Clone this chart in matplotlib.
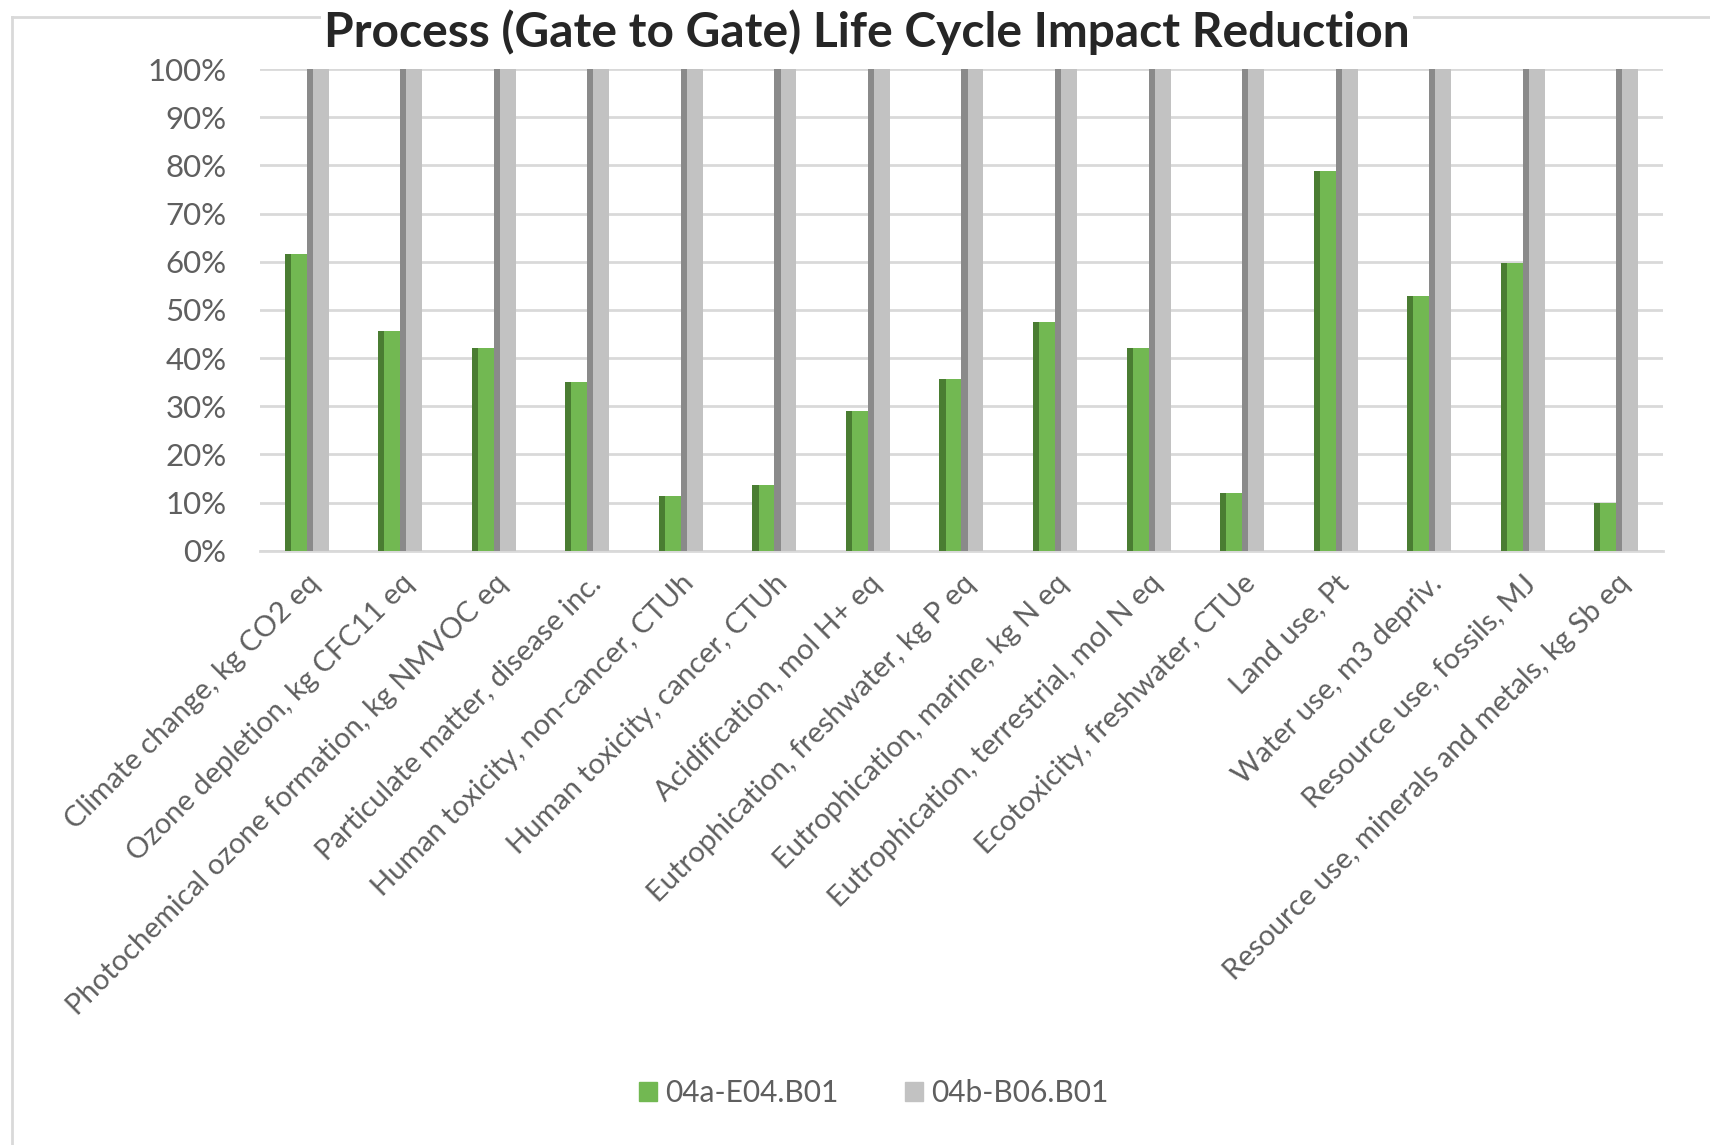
import matplotlib
matplotlib.use("Agg")
import matplotlib.pyplot as plt
import numpy as np

plt.rcParams['font.family'] = ['Lato', 'DejaVu Sans']

categories = [
    "Climate change, kg CO2 eq",
    "Ozone depletion, kg CFC11 eq",
    "Photochemical ozone formation, kg NMVOC eq",
    "Particulate matter, disease inc.",
    "Human toxicity, non-cancer, CTUh",
    "Human toxicity, cancer, CTUh",
    "Acidification, mol H+ eq",
    "Eutrophication, freshwater, kg P eq",
    "Eutrophication, marine, kg N eq",
    "Eutrophication, terrestrial, mol N eq",
    "Ecotoxicity, freshwater, CTUe",
    "Land use, Pt",
    "Water use, m3 depriv.",
    "Resource use, fossils, MJ",
    "Resource use, minerals and metals, kg Sb eq",
]
e04_b01 = [0.616, 0.456, 0.421, 0.351, 0.114, 0.137, 0.291, 0.357,
           0.474, 0.420, 0.119, 0.788, 0.529, 0.598, 0.099]
b06_b01 = [1.0] * 15
series_names = ["04a-E04.B01", "04b-B06.B01"]

green = "#72b852"
green_dark = "#4a7d32"
grey = "#c2c2c2"
grey_dark = "#8a8a8a"
text_col = "#5f5f5f"

fig = plt.figure(figsize=(17.1, 11.45), dpi=100)
ax = fig.add_axes([0.152, 0.519, 0.8205, 0.4207])

x = np.arange(len(categories))
w = 0.235

# bars with a darker strip on the left side to mimic the Excel shading
ax.bar(x - w, e04_b01, width=w, align='edge', color=green, label=series_names[0], zorder=3)
ax.bar(x - w, e04_b01, width=w * 0.28, align='edge', color=green_dark, zorder=3)
ax.bar(x, b06_b01, width=w, align='edge', color=grey, label=series_names[1], zorder=3)
ax.bar(x, b06_b01, width=w * 0.28, align='edge', color=grey_dark, zorder=3)

ax.set_xlim(-0.5, len(categories) - 0.5)
ax.set_ylim(0, 1)
ax.set_yticks(np.arange(0, 1.01, 0.1))
ax.set_yticklabels([f"{int(round(v * 100))}%" for v in np.arange(0, 1.01, 0.1)])
ax.grid(axis='y', color='#d9d9d9', linewidth=2, zorder=0)
ax.set_xticks(x)
ax.set_xticklabels(categories, rotation=45, ha='right', rotation_mode='anchor')

for s in ['top', 'right', 'left']:
    ax.spines[s].set_visible(False)
ax.spines['bottom'].set_color('#d9d9d9')
ax.spines['bottom'].set_linewidth(2)
ax.tick_params(axis='both', length=0, labelsize=21, labelcolor=text_col)
ax.tick_params(axis='y', labelsize=22.5, pad=24)
ax.tick_params(axis='x', pad=14)

# chart frame (only top and left visible in the crop)
fig.add_artist(plt.Line2D([0.007, 1.0], [0.985, 0.985], color='#d9d9d9', lw=2))
fig.add_artist(plt.Line2D([0.007, 0.007], [0.0, 0.985], color='#d9d9d9', lw=2))

fig.text(0.507, 0.972, "Process (Gate to Gate) Life Cycle Impact Reduction",
         ha='center', va='center', fontsize=34.5, fontweight='bold', color='#262626',
         bbox=dict(facecolor='white', edgecolor='none', pad=2))

handles = [plt.Rectangle((0, 0), 1, 1, color=green), plt.Rectangle((0, 0), 1, 1, color=grey)]
fig.legend(handles, series_names, loc='center', bbox_to_anchor=(0.511, 0.045), ncol=2,
           frameon=False, fontsize=21.5, labelcolor=text_col, handlelength=0.6,
           handleheight=0.6, handletextpad=0.3, columnspacing=2.2)

fig.savefig("out.png", dpi=100, facecolor='white')
